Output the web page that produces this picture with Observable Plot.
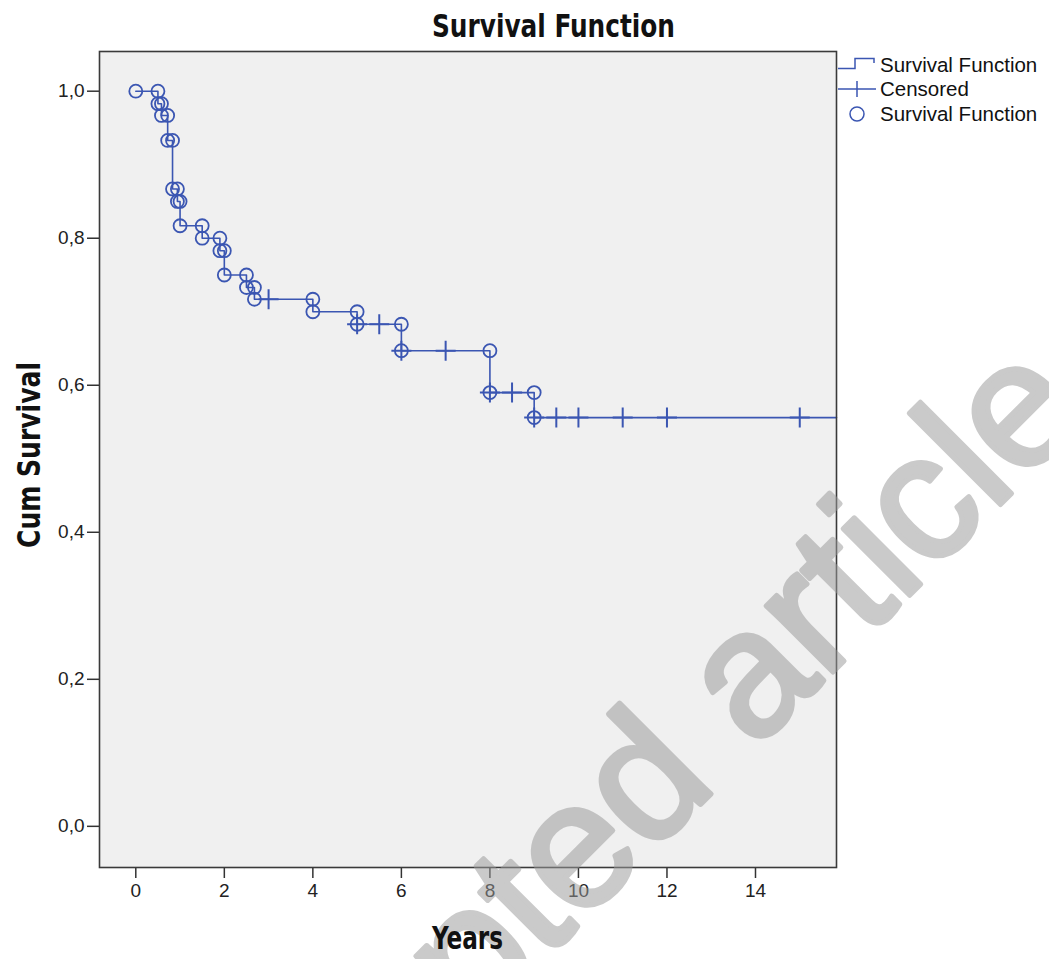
<!DOCTYPE html>
<html>
<head>
<meta charset="utf-8">
<script src="https://cdn.jsdelivr.net/npm/d3@7"></script>
<script src="https://cdn.jsdelivr.net/npm/@observablehq/plot@0.6"></script>
<style>
  body { margin: 0; background: #fff; }
  #wrap { position: relative; width: 1049px; height: 959px; overflow: hidden; }
  #wrap svg.overlay { position: absolute; left: 0; top: 0; pointer-events: none; }
</style>
</head>
<body>
<div id="wrap"></div>
<script>
// ---- data ----
const eventTimes = [0, 0.5, 0.58, 0.72, 0.83, 0.94, 1.0, 1.5, 1.9, 2.0, 2.5, 2.68, 4, 5, 6, 8, 9];
const survival   = [1, 0.983, 0.967, 0.933, 0.867, 0.850, 0.817, 0.800, 0.783, 0.750, 0.733, 0.717, 0.700, 0.683, 0.647, 0.590, 0.556];
const censoredTimes = [3, 5, 5.5, 6, 7, 8, 8.5, 9, 9.5, 10, 11, 12, 15];
const xTicks = [0, 2, 4, 6, 8, 10, 12, 14];
const yTicks = [0, 0.2, 0.4, 0.6, 0.8, 1.0];
const xDomain = [-0.82, 15.83];
const yDomain = [-0.056, 1.054];
const titleText = "Survival Function";
const xLabel = "Years";
const yLabel = "Cum Survival";
const legendItems = ["Survival Function", "Censored", "Survival Function"];
const watermarkText = "Accepted article";

const blue = "#3b56b2";

// step-curve points, extended to right edge
const curve = eventTimes.map((t, i) => ({t, s: survival[i]}));
curve.push({t: xDomain[1], s: survival[survival.length - 1]});

// circles at both ends of each drop
const circles = [{t: eventTimes[0], s: survival[0]}];
for (let i = 1; i < eventTimes.length; i++) {
  circles.push({t: eventTimes[i], s: survival[i - 1]});
  circles.push({t: eventTimes[i], s: survival[i]});
}
// censored marks at step function value
const stepAt = t => { let v = survival[0]; eventTimes.forEach((et, i) => { if (et <= t) v = survival[i]; }); return v; };
const censored = censoredTimes.map(t => ({t, s: stepAt(t)}));

const W = 1049, H = 959;
const chart = Plot.plot({
  width: W, height: H,
  marginLeft: 99, marginRight: 213, marginTop: 51, marginBottom: 92,
  style: {fontFamily: "'Liberation Sans', Arial, sans-serif", fontSize: "19px", color: "#222", background: "transparent"},
  x: {domain: xDomain, ticks: xTicks},
  y: {domain: yDomain, ticks: yTicks},
  marks: [
    Plot.frame({fill: "#f0f0f0", stroke: null}),
    Plot.line(curve, {x: "t", y: "s", curve: "step-after", stroke: blue, strokeWidth: 1.6}),
    Plot.dot(circles, {x: "t", y: "s", r: 6.5, stroke: blue, strokeWidth: 1.8, fill: "none"}),
    Plot.dot(censored, {x: "t", y: "s", symbol: "plus", r: 6.5, stroke: blue, strokeWidth: 2}),
    Plot.axisX({ticks: xTicks, tickSize: 11, tickPadding: 5, label: null, stroke: "#333", strokeWidth: 1.5, fill: "#222"}),
    Plot.axisY({ticks: yTicks, tickSize: 12, tickPadding: 3, label: null, stroke: "#333", strokeWidth: 1.5, fill: "#222",
      tickFormat: d => d.toFixed(1).replace(".", ",")}),
    Plot.frame({stroke: "#3a3a3a", strokeWidth: 1.6})
  ]
});
const wrap = document.getElementById("wrap");
wrap.appendChild(chart);

// overlay: title, axis titles, legend, watermark
const ov = d3.select(wrap).append("svg").attr("class", "overlay").attr("width", W).attr("height", H);

// watermark (drawn first so text sits above it)
ov.append("text").attr("transform", "translate(1090,415) rotate(-45)").attr("text-anchor", "end")
  .attr("font-family", "'Liberation Sans', Arial, sans-serif").attr("font-size", 178)
  .attr("fill", "#9a9a9a").attr("stroke", "#9a9a9a").attr("stroke-width", 5).attr("stroke-linejoin", "round")
  .attr("opacity", 0.52).text(watermarkText);

const bold = "'DejaVu Sans Condensed', 'DejaVu Sans', sans-serif";
ov.append("text").attr("x", 432).attr("y", 37)
  .attr("textLength", 243).attr("lengthAdjust", "spacingAndGlyphs")
  .attr("font-family", bold).attr("font-weight", "bold").attr("font-size", 32).attr("fill", "#111").text(titleText);
ov.append("text").attr("x", 432).attr("y", 949)
  .attr("textLength", 71).attr("lengthAdjust", "spacingAndGlyphs")
  .attr("font-family", bold).attr("font-weight", "bold").attr("font-size", 32).attr("fill", "#111").text(xLabel);
ov.append("text").attr("transform", "translate(40,548) rotate(-90)")
  .attr("textLength", 186).attr("lengthAdjust", "spacingAndGlyphs")
  .attr("font-family", bold).attr("font-weight", "bold").attr("font-size", 32).attr("fill", "#111").text(yLabel);

// legend
const lg = ov.append("g").attr("fill", "none").attr("stroke", blue).attr("stroke-width", 1.5);
lg.append("path").attr("d", "M838,68.5H855V58.5H874V63");
lg.append("path").attr("d", "M838,89H876M857,81V97");
lg.append("circle").attr("cx", 857).attr("cy", 114).attr("r", 7);
legendItems.forEach((s, i) => {
  ov.append("text").attr("x", 880).attr("y", [72, 96, 121][i])
    .attr("font-family", "'Liberation Sans', Arial, sans-serif").attr("font-size", 20.5).attr("fill", "#111").text(s);
});
</script>
</body>
</html>
